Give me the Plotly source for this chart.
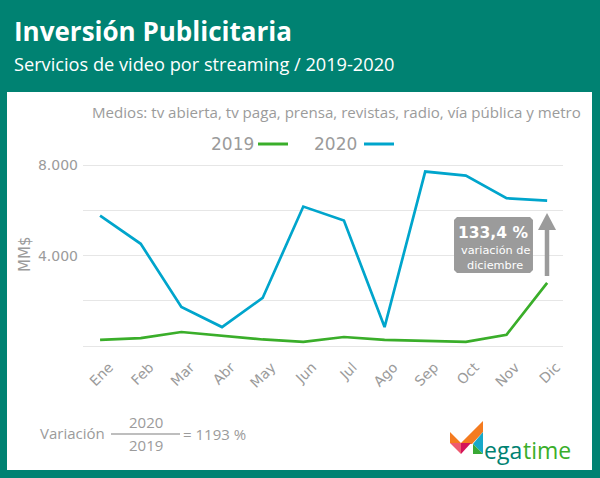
import plotly.graph_objects as go

WIDTH = 600
HEIGHT = 478

meses = ["Ene", "Feb", "Mar", "Abr", "May", "Jun", "Jul", "Ago", "Sep", "Oct", "Nov", "Dic"]
valores_2019 = [270, 350, 620, 440, 290, 180, 400, 270, 220, 180, 500, 2800]
valores_2020 = [5780, 4530, 1730, 840, 2130, 6180, 5560, 840, 7730, 7550, 6550, 6440]
y_ticks = [0, 2000, 4000, 6000, 8000]
y_labels = ["", "", "4.000", "", "8.000"]

TEAL = "#008272"
GRIS = "#9b9b9b"
VERDE = "#3aae2a"
AZUL = "#00a5cc"
FONT = "Open Sans"


def px(x):
    return x / WIDTH


def py(y):
    return 1 - y / HEIGHT


def path(puntos):
    # pixel positions to a closed svg path in paper coords
    txt = "M " + " L ".join(f"{px(x):.4f},{py(y):.4f}" for x, y in puntos)
    return txt + " Z"


def forma(puntos, color):
    return dict(type="path", xref="paper", yref="paper", path=path(puntos),
                fillcolor=color, line=dict(width=0), layer="above")


def linea(x0, y0, x1, y1, color, width):
    return dict(type="line", xref="paper", yref="paper", x0=px(x0), y0=py(y0), x1=px(x1), y1=py(y1),
                line=dict(color=color, width=width), layer="above")


def texto(x, y, s, size, color=GRIS, anchor="left", family=FONT, bold=False):
    return dict(xref="paper", yref="paper", x=px(x), y=py(y), text=f"<b>{s}</b>" if bold else s,
                showarrow=False, xanchor=anchor, yanchor="middle", borderpad=0,
                font=dict(family=family, size=size, color=color))


fig = go.Figure()
fig.add_trace(go.Scatter(x=meses, y=valores_2019, mode="lines", name="2019",
                         line=dict(color=VERDE, width=2.7), showlegend=False))
fig.add_trace(go.Scatter(x=meses, y=valores_2020, mode="lines", name="2020",
                         line=dict(color=AZUL, width=2.7), showlegend=False))

shapes = [
    # white panel
    dict(type="rect", xref="paper", yref="paper", x0=px(7), x1=px(592), y0=py(470), y1=py(92),
         fillcolor="white", line=dict(width=0), layer="below"),
    # legend lines
    linea(258, 144, 288, 144, VERDE, 3),
    linea(364, 144, 394, 144, AZUL, 3),
    # callout box
    forma([(457, 217), (530, 217), (533, 220), (533, 270), (530, 273), (457, 273), (454, 270), (454, 220)], GRIS),
    # arrow
    linea(547, 230, 547, 276, GRIS, 4.5),
    forma([(538, 230), (547, 213), (556, 230)], GRIS),
    # fraction bar
    linea(111, 434, 180, 434, "#a8a8a8", 1.5),
    # logo
    forma([(450, 432), (461, 443), (483, 421), (483, 432), (472, 444), (450, 443)], "#f47b20"),
    forma([(450, 443), (461, 443), (461, 454)], "#ee5a6f"),
    forma([(461, 443), (471, 443), (461, 454)], "#d4145a"),
    forma([(483, 432), (473, 444), (483, 454)], "#17a9c9"),
    forma([(473, 444), (473, 454), (483, 454)], "#39a935"),
]

annotations = [
    texto(13, 31, "Inversión Publicitaria", 26, "white", bold=True),
    texto(13, 64, "Servicios de video por streaming / 2019-2020", 18.2, "white"),
    texto(582, 112, "Medios: tv abierta, tv paga, prensa, revistas, radio, vía pública y metro", 15.1, anchor="right"),
    texto(255, 144, "2019", 17, anchor="right", family="DejaVu Sans"),
    texto(358, 144, "2020", 17, anchor="right", family="DejaVu Sans"),
    texto(493, 233, "133,4 %", 15.5, "white", "center", "DejaVu Sans", True),
    texto(495, 251, "variación de", 11.3, "white", "center", "DejaVu Sans"),
    texto(495, 265, "diciembre", 11.3, "white", "center", "DejaVu Sans"),
    texto(39, 433, "Variación", 15),
    texto(146, 422, "2020", 15, anchor="center"),
    texto(146, 445, "2019", 15, anchor="center"),
    texto(182, 434, "= 1193 %", 15),
    texto(25, 255, "MM$", 15, family="DejaVu Sans"),
    texto(483, 450, "ega", 23, TEAL),
    texto(521.5, 450, "time", 23, VERDE),
]
annotations[12].update(textangle=-90, xanchor="center")

fig.update_layout(
    width=WIDTH,
    height=HEIGHT,
    paper_bgcolor=TEAL,
    plot_bgcolor="rgba(0,0,0,0)",
    margin=dict(l=0, r=0, t=0, b=0),
    showlegend=False,
    shapes=shapes,
    annotations=annotations,
    xaxis=dict(domain=[px(83), px(563)], range=[-0.42, 11.39], showgrid=False, zeroline=False, automargin=False,
               tickangle=-45, ticks="", ticklabelshift=9, ticklabelstandoff=6,
               tickfont=dict(family="DejaVu Sans", size=14, color=GRIS)),
    # range past 0 and 8000, plotly drops gridlines sitting within a pixel of the ends
    yaxis=dict(domain=[py(349.4), py(162.1)], range=[-150, 8150], tickvals=y_ticks, ticktext=y_labels, automargin=False,
               gridcolor="#e6e6e6", gridwidth=1, zeroline=False, ticks="", ticklabelstandoff=4,
               tickfont=dict(family="DejaVu Sans", size=14, color=GRIS)),
)

# the page margin would push the figure off the window
fig.write_html("out.html", config=dict(displayModeBar=False),
               post_script="document.body.style.margin='0';document.body.style.overflow='hidden';")
